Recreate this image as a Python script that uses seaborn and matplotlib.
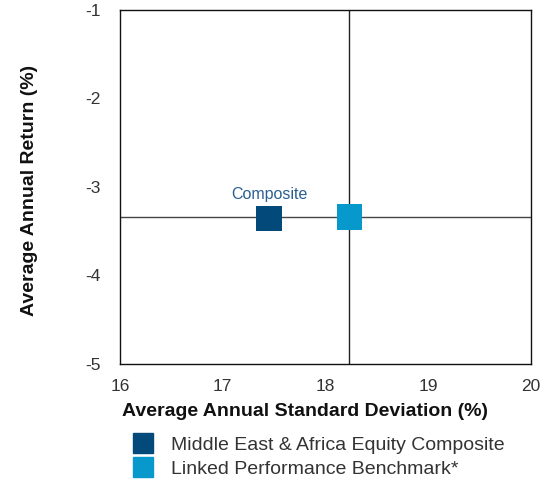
import matplotlib.pyplot as plt
import matplotlib.ticker as mticker
import pandas as pd
import seaborn as sns

names = ["Middle East & Africa Equity Composite", "Linked Performance Benchmark*"]
std_dev = [17.45, 18.23]
returns = [-3.36, -3.34]
colors = ["#034a7a", "#0899cc"]

sns.set_style("white")
plt.rcParams['font.family'] = ['Liberation Sans', 'DejaVu Sans']
plt.rcParams['axes.unicode_minus'] = False

df = pd.DataFrame({"name": names, "std": std_dev, "ret": returns})

fig = plt.figure(figsize=(5.44, 4.84), dpi=100)
ax = fig.add_axes([0.2206, 0.248, 0.7555, 0.7314])

ax.axvline(std_dev[1], color="#222222", lw=1, zorder=1)
ax.axhline(returns[1], color="#444444", lw=1, zorder=1)

sns.scatterplot(data=df, x="std", y="ret", hue="name", palette=colors,
                marker="s", s=330, linewidth=0, ax=ax, zorder=3, legend=False)

ax.text(std_dev[0], returns[0] + 0.19, "Composite", color="#2a5f8f",
        fontsize=11.5, ha="center", va="bottom")

ax.set_xlim(16, 20)
ax.set_ylim(-5, -1)
ax.set_xticks([16, 17, 18, 19, 20])
ax.set_yticks([-5, -4, -3, -2, -1])
ax.xaxis.set_major_formatter(mticker.FormatStrFormatter("%d"))
ax.yaxis.set_major_formatter(mticker.FormatStrFormatter("%d"))
ax.tick_params(labelsize=12.5, colors="#333333", length=0)
ax.tick_params(axis="x", pad=11)
ax.tick_params(axis="y", pad=14)
for s in ax.spines.values():
    s.set_color("#111111")
    s.set_linewidth(1)

ax.set_xlabel("Average Annual Standard Deviation (%)", fontsize=14,
              fontweight="bold", color="#111111")
ax.set_ylabel("Average Annual Return (%)", fontsize=14,
              fontweight="bold", color="#111111")
ax.xaxis.set_label_coords(0.45, -0.133)
ax.yaxis.set_label_coords(-0.219, 0.49)
ax.xaxis.label.set_va("center")
ax.yaxis.label.set_va("center")

handles = [plt.Line2D([], [], marker="s", linestyle="", markersize=15,
                      color=c) for c in colors]
fig.legend(handles, names, loc="upper left", bbox_to_anchor=(0.2233, 0.119),
           frameon=False, fontsize=14, handletextpad=0.85,
           labelspacing=0.35, handlelength=1.2, borderpad=0,
           labelcolor="#333333")

fig.savefig("out.png", dpi=100)
